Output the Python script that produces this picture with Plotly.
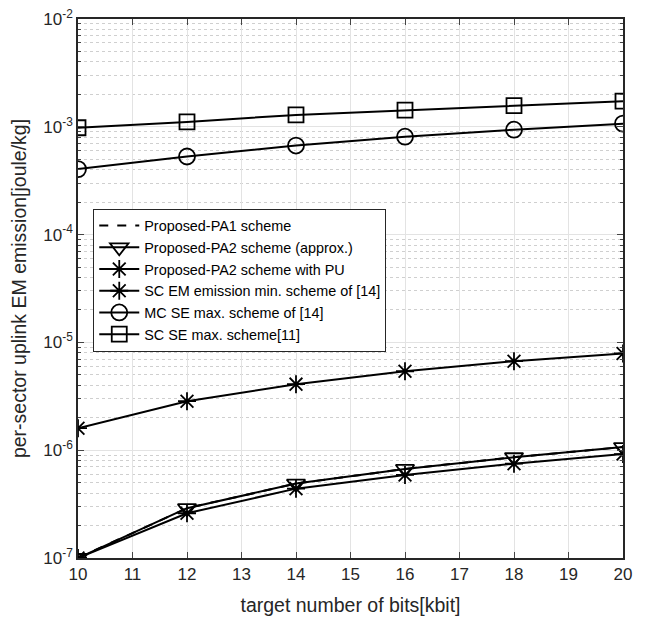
import plotly.graph_objects as go

x_bits = [10, 12, 14, 16, 18, 20]
pa1 = [1.0e-7, 2.9e-7, 4.9e-7, 6.7e-7, 8.6e-7, 1.07e-6]
pa2_approx = [1.0e-7, 2.9e-7, 4.9e-7, 6.7e-7, 8.6e-7, 1.07e-6]
pa2_pu = [1.0e-7, 2.6e-7, 4.4e-7, 5.9e-7, 7.5e-7, 9.2e-7]
sc_em = [1.6e-6, 2.85e-6, 4.1e-6, 5.4e-6, 6.7e-6, 7.9e-6]
mc_se = [4.05e-4, 5.3e-4, 6.7e-4, 8.1e-4, 9.4e-4, 1.07e-3]
sc_se = [9.8e-4, 1.11e-3, 1.29e-3, 1.43e-3, 1.57e-3, 1.73e-3]

names = ["Proposed-PA1 scheme", "Proposed-PA2 scheme (approx.)",
         "Proposed-PA2 scheme with PU", "SC EM emission min. scheme of [14]",
         "MC SE max. scheme of [14]", "SC SE max. scheme[11]"]

y_tickvals = [1e-7, 1e-6, 1e-5, 1e-4, 1e-3, 1e-2]
y_ticktext = ["10<sup>-7</sup>", "10<sup>-6</sup>", "10<sup>-5</sup>",
              "10<sup>-4</sup>", "10<sup>-3</sup>", "10<sup>-2</sup>"]
x_tickvals = list(range(10, 21))

fig = go.Figure()
lw = 2
mk_line = dict(width=1.8, color="black")
fig.add_trace(go.Scatter(x=x_bits, y=pa1, name=names[0], mode="lines",
                         line=dict(color="black", width=lw, dash="dash")))
fig.add_trace(go.Scatter(x=x_bits, y=pa2_approx, name=names[1], mode="lines+markers",
                         line=dict(color="black", width=lw),
                         marker=dict(symbol="triangle-down-open", size=16, color="black", line=mk_line)))
fig.add_trace(go.Scatter(x=x_bits, y=pa2_pu, name=names[2], mode="lines+markers",
                         line=dict(color="black", width=lw),
                         marker=dict(symbol="asterisk-open", size=15, color="black", line=mk_line)))
fig.add_trace(go.Scatter(x=x_bits, y=sc_em, name=names[3], mode="lines+markers",
                         line=dict(color="black", width=lw),
                         marker=dict(symbol="asterisk-open", size=15, color="black", line=mk_line)))
fig.add_trace(go.Scatter(x=x_bits, y=mc_se, name=names[4], mode="lines+markers",
                         line=dict(color="black", width=lw),
                         marker=dict(symbol="circle-open", size=16, color="black", line=mk_line)))
fig.add_trace(go.Scatter(x=x_bits, y=sc_se, name=names[5], mode="lines+markers",
                         line=dict(color="black", width=lw),
                         marker=dict(symbol="square-open", size=15, color="black", line=mk_line)))

font_fam = "Liberation Sans, Arial, sans-serif"
fig.update_layout(
    width=645, height=623,
    margin=dict(l=70, r=30, t=11, b=73),
    paper_bgcolor="white", plot_bgcolor="white",
    font=dict(family=font_fam, size=17, color="#262626"),
    showlegend=True,
    legend=dict(x=0.028, y=0.648, xanchor="left", yanchor="top",
                bgcolor="white", bordercolor="#262626", borderwidth=1,
                font=dict(size=14.4, color="black"), tracegroupgap=0,
                itemwidth=40),
)
fig.update_xaxes(
    range=[10, 20], tickvals=x_tickvals, ticks="inside", ticklen=6,
    showline=True, linecolor="#262626", linewidth=1.5, mirror="ticks",
    showgrid=True, gridcolor="#e3e3e3", gridwidth=1, zeroline=False,
    automargin=False, ticklabeloverflow="allow",
    title=dict(text="target number of bits[kbit]", font=dict(size=19.5)),
    tickfont=dict(size=17),
)
fig.update_yaxes(
    type="log", range=[-7, -2], tickvals=y_tickvals, ticktext=y_ticktext,
    ticks="inside", ticklen=6,
    showline=True, linecolor="#262626", linewidth=1.5, mirror="ticks",
    showgrid=True, gridcolor="#e3e3e3", gridwidth=1, zeroline=False,
    automargin=False, ticklabeloverflow="allow",
    minor=dict(ticks="inside", ticklen=3, showgrid=True, gridcolor="#cfcfcf",
               griddash="dot", gridwidth=1, dtick="D1"),
    title=dict(text="per-sector uplink EM emission[joule/kg]", font=dict(size=19.5)),
    tickfont=dict(size=17),
)

fig.write_html("out.html")
